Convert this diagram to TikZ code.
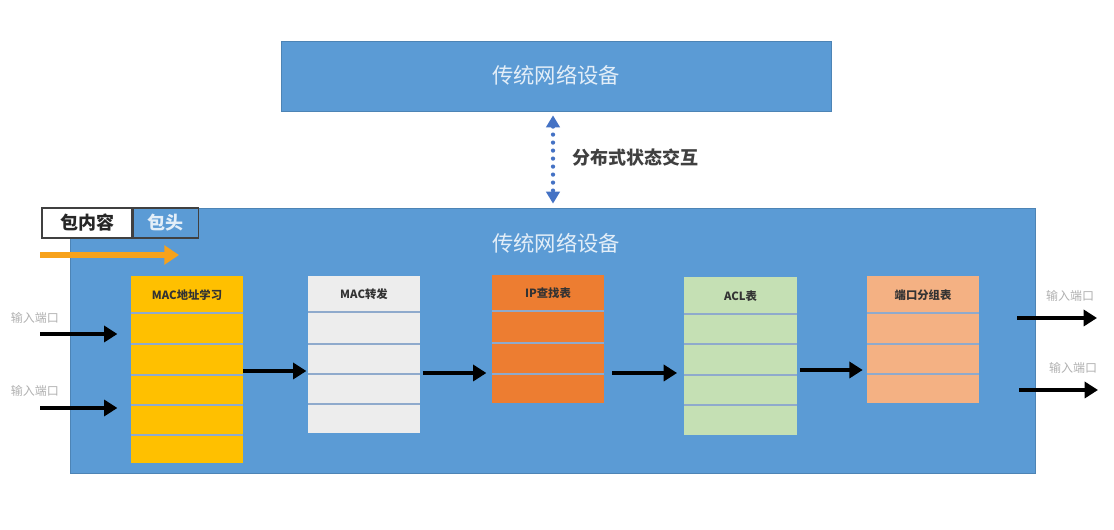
\documentclass[tikz,border=0pt]{standalone}
\usepackage{fontspec}
\setmainfont{Noto Sans CJK SC}
\usetikzlibrary{arrows.meta}
\definecolor{boxblue}{HTML}{5B9BD5}
\definecolor{titletxt}{HTML}{E3EEF8}
\definecolor{dotblue}{HTML}{4472C4}
\definecolor{tyellow}{HTML}{FFC000}
\definecolor{tgray}{HTML}{EDEDED}
\definecolor{torange}{HTML}{ED7D31}
\definecolor{tgreen}{HTML}{C5E0B4}
\definecolor{tpeach}{HTML}{F4B183}
\definecolor{rowline}{HTML}{8FAACC}
\definecolor{arrorange}{HTML}{F7A21B}
\definecolor{lbl}{HTML}{B0B0B0}
\tikzset{
  px/.style={x=0.75pt,y=-0.75pt},
  bluebox/.style={fill=boxblue,draw=boxblue!85!black,line width=0.5pt,inner sep=0pt},
  tbl/.style={draw=none,inner sep=0pt,minimum width=84pt},
  rowsep/.style={draw=rowline,line width=0.8pt},
  hdr/.style={font=\bfseries\fontsize{8.5}{10}\selectfont,text=black!80},
  arr/.style={line width=3pt,-{Triangle[length=10pt,width=12pt]},black},
  portlbl/.style={font=\fontsize{9}{10}\selectfont,text=lbl},
}
\begin{document}
\begin{tikzpicture}[px]
\useasboundingbox (0,0) rectangle (1114,530);
% top device
\node[bluebox,minimum width=412.5pt,minimum height=52.5pt] (top) at (556,76) {};
\node[text=titletxt,font=\fontsize{16}{18}\selectfont] (toptitle) at (556,75) {传统网络设备};
% main device
\node[bluebox,minimum width=723.75pt,minimum height=198.75pt] (main) at (552.5,340.5) {};
\node[text=titletxt,font=\fontsize{16}{18}\selectfont] (maintitle) at (556,243) {传统网络设备};
% dotted interaction
\draw[dotblue,line width=3.2pt,dash pattern=on 0pt off 6pt,line cap=round,
  {Triangle[length=9pt,width=10pt,line cap=butt]}-{Triangle[length=9pt,width=10pt,line cap=butt]},shorten <=3pt,shorten >=3pt]
  (top.south -| 553,0) -- (main.north -| 553,0);
\node[anchor=west,font=\bfseries\fontsize{13.5}{15}\selectfont,text=black!75] (inter) at (568,158) {分布式状态交互};
% packet content/header
\node[draw=black!75,fill=white,line width=1pt,minimum width=67.5pt,minimum height=22.5pt,inner sep=0pt,
  font=\bfseries\fontsize{13.5}{15}\selectfont,text=black!85] (pc) at (87,223) {包内容};
\node[draw=black!75,fill=boxblue,line width=1pt,minimum width=48.75pt,minimum height=22.5pt,inner sep=0pt,
  font=\bfseries\fontsize{13.5}{15}\selectfont,text=titletxt,anchor=west] (ph) at (pc.east) {包头};
\coordinate (oa) at (40,255);
\coordinate (ob) at (179,255);
\draw[arrorange,line width=4pt,-{Triangle[length=11pt,width=14pt]}] (oa) -- (ob);
% tables
% 1 MAC learning
\node[tbl,fill=tyellow,minimum height=140.25pt] (t1) at (187,369.5) {};
\node[hdr] (h1) at (187,295) {MAC地址学习};
\foreach \y in {313,344,375,405,435} \draw[rowsep] (t1.west |- 0,\y) -- (t1.east |- 0,\y);
% 2 MAC forwarding
\node[tbl,fill=tgray,minimum height=117.75pt] (t2) at (364,354.5) {};
\node[hdr] (h2) at (364,294) {MAC转发};
\foreach \y in {312,344,374,404} \draw[rowsep] (t2.west |- 0,\y) -- (t2.east |- 0,\y);
% 3 IP lookup
\node[tbl,fill=torange,minimum height=96pt] (t3) at (548,339) {};
\node[hdr] (h3) at (548,293) {IP查找表};
\foreach \y in {311,343,374} \draw[rowsep] (t3.west |- 0,\y) -- (t3.east |- 0,\y);
% 4 ACL
\node[tbl,fill=tgreen,minimum height=118.5pt,minimum width=84.75pt] (t4) at (740.5,356) {};
\node[hdr] (h4) at (740.5,296) {ACL表};
\foreach \y in {314,344,375,405} \draw[rowsep] (t4.west |- 0,\y) -- (t4.east |- 0,\y);
% 5 port group
\node[tbl,fill=tpeach,minimum height=95.25pt] (t5) at (923,339.5) {};
\node[hdr] (h5) at (923,295) {端口分组表};
\foreach \y in {313,344,374} \draw[rowsep] (t5.west |- 0,\y) -- (t5.east |- 0,\y);
% flow arrows
\draw[arr] (t1.east |- 0,371) -- ([xshift=-1pt]t2.west |- 0,371);
\draw[arr] ([xshift=2pt]t2.east |- 0,373) -- ([xshift=-4pt]t3.west |- 0,373);
\draw[arr] ([xshift=6pt]t3.east |- 0,373) -- ([xshift=-5pt]t4.west |- 0,373);
\draw[arr] ([xshift=2pt]t4.east |- 0,370) -- ([xshift=-3pt]t5.west |- 0,370);
% input ports
\coordinate (in1) at (40,334);
\coordinate (in2) at (40,408);
\draw[arr] (in1) -- ([xshift=-10pt]t1.west |- in1);
\draw[arr] (in2) -- ([xshift=-10pt]t1.west |- in2);
\node[portlbl] (li1) at (35,318) {输入端口};
\node[portlbl] (li2) at (35,391) {输入端口};
% output ports
\coordinate (os1) at (1017,318);
\coordinate (oe1) at (1097,318);
\coordinate (os2) at (1019,390);
\coordinate (oe2) at (1098,390);
\draw[arr] (os1) -- (oe1);
\draw[arr] (os2) -- (oe2);
\node[portlbl] (lo1) at (1070,296) {输入端口};
\node[portlbl] (lo2) at (1073,368) {输入端口};
\end{tikzpicture}
\end{document}
